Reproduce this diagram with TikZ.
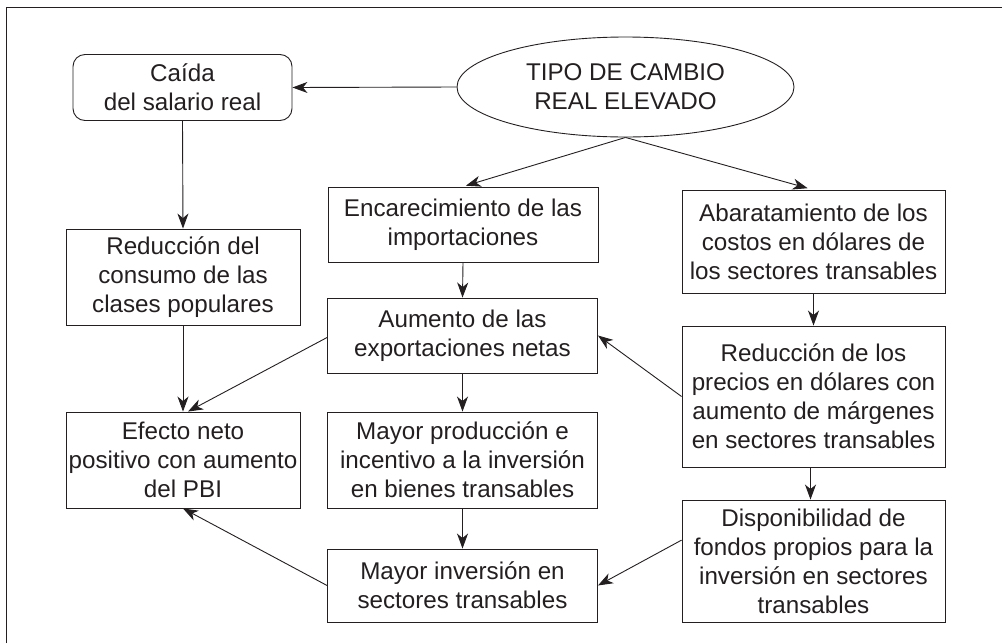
\documentclass[tikz,border=0pt]{standalone}
\usepackage{fontspec}
\setmainfont{Liberation Sans}
\usetikzlibrary{shapes.geometric,arrows.meta,calc}
\definecolor{ink}{HTML}{231F20}
\tikzset{
  box/.style={draw=ink, line width=0.9pt, rectangle, inner sep=0pt, align=center,
    text=ink, font=\fontsize{24.2}{29}\selectfont},
  rbox/.style={box, rounded corners=12pt},
  oval/.style={box, ellipse},
  arr/.style={draw=ink, line width=0.9pt, -{Stealth[length=15pt,width=11pt,inset=4.5pt]}}
}
\begin{document}
\begin{tikzpicture}[x=1pt,y=-1pt]
\useasboundingbox (0,0) rectangle (1002,643);
\draw[ink, line width=1pt] (6,643) -- (6,7) -- (1002,7);

\node[rbox, minimum width=219pt, minimum height=66pt] (caida) at (182.5,87.5) {Caída\\del salario real};
\node[oval, minimum width=337pt, minimum height=100pt] (tipo) at (625.5,87) {TIPO DE CAMBIO\\REAL ELEVADO};
\node[box, minimum width=270pt, minimum height=75pt] (enc) at (463,224.5) {Encarecimiento de las\\importaciones};
\node[box, minimum width=263pt, minimum height=103pt] (abar) at (813.5,241.5) {Abaratamiento de los\\costos en dólares de\\los sectores transables};
\node[box, minimum width=234pt, minimum height=96pt] (redc) at (183,277) {Reducción del\\consumo de las\\clases populares};
\node[box, minimum width=270pt, minimum height=75pt] (aum) at (462.5,335.5) {Aumento de las\\exportaciones netas};
\node[box, minimum width=263pt, minimum height=141pt] (redp) at (813.5,396.5) {Reducción de los\\precios en dólares con\\aumento de márgenes\\en sectores transables};
\node[box, minimum width=234pt, minimum height=96pt] (efe) at (183,460) {Efecto neto\\positivo con aumento\\del PBI};
\node[box, minimum width=270pt, minimum height=96pt] (mprod) at (462.5,460) {Mayor producción e\\incentivo a la inversión\\en bienes transables};
\node[box, minimum width=263pt, minimum height=122pt] (disp) at (813.5,561) {Disponibilidad de\\fondos propios para la\\inversión en sectores\\transables};
\node[box, minimum width=270pt, minimum height=73pt] (minv) at (462.5,585.5) {Mayor inversión en\\sectores transables};

\draw[arr] (tipo.west) -- (caida.east);
\draw[arr, shorten >=3pt] (tipo.south) -- (enc.north);
\draw[arr, shorten >=5pt] (tipo.south) -- ($(abar.north)+(-1,0)$);
\draw[arr] (caida.south) -- (redc.north);
\draw[arr] (enc.south) -- (aum.north);
\draw[arr] (abar.south) -- (redp.north);
\draw[arr] (redc.south) -- (efe.north);
\draw[arr] ($(aum.west)+(0,2)$) -- ($(efe.north)+(5,0)$);
\draw[arr] (aum.south) -- (mprod.north);
\draw[arr] (redp.west) -- (aum.east);
\draw[arr] ($(redp.south)+(-3,0)$) -- ($(disp.north)+(-3,0)$);
\draw[arr] (mprod.south) -- (minv.north);
\draw[arr] ($(disp.north west)!0.33!(disp.south west)$) -- (minv.east);
\draw[arr] (minv.west) -- (efe.south);
\end{tikzpicture}
\end{document}
